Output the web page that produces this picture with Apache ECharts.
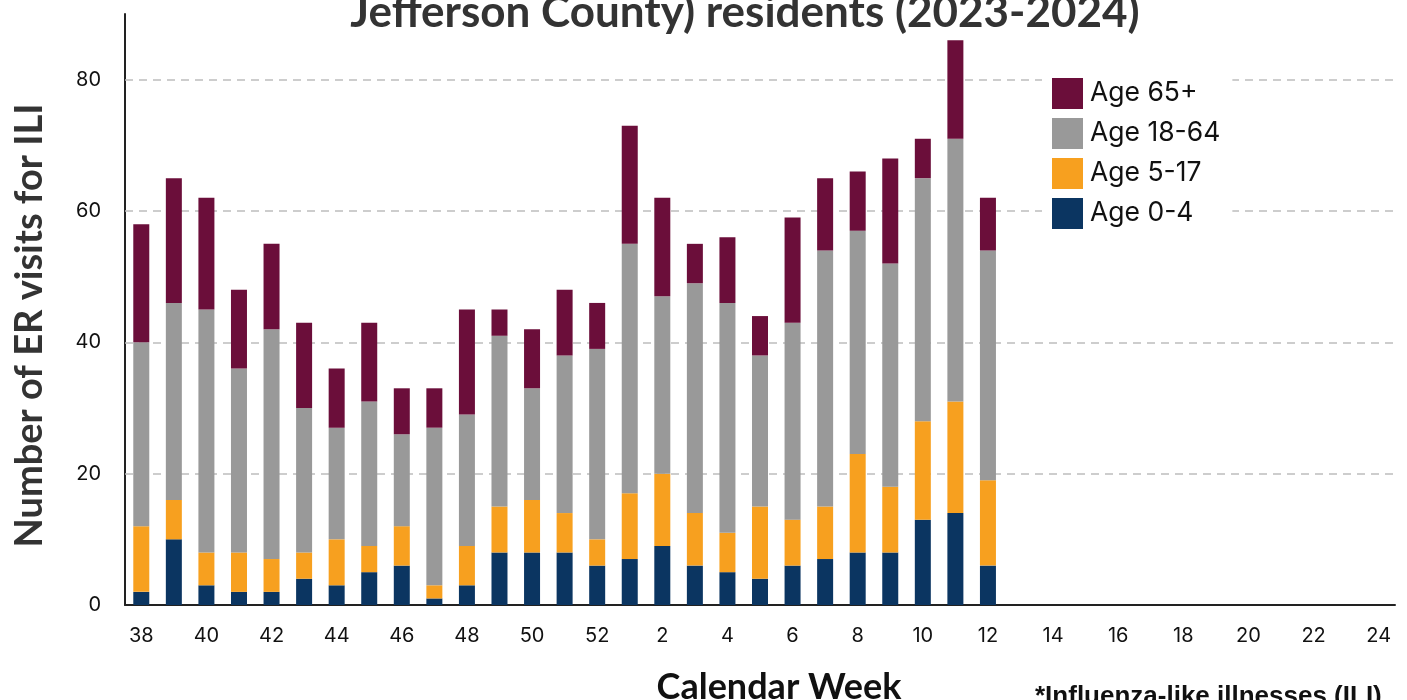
<!DOCTYPE html>
<html>
<head>
<meta charset="utf-8">
<script src="https://cdn.jsdelivr.net/npm/echarts@6/dist/echarts.min.js"></script>
<style>
  html, body { margin: 0; padding: 0; background: #fff; }
  #chart { width: 1407px; height: 700px; }
</style>
</head>
<body>
<div id="chart"></div>
<script>
// weeks 38-52 of 2023, then 1-24 of 2024
var weeks = ['38','39','40','41','42','43','44','45','46','47','48','49','50','51','52',
  '1','2','3','4','5','6','7','8','9','10','11','12','13','14','15','16','17','18','19','20','21','22','23','24'];

var age0to4   = [2,10,3,2,2,4,3,5,6,1,3,8,8,8,6, 7,9,6,5,4,6,7,8,8,13,14,6];
var age5to17  = [10,6,5,6,5,4,7,4,6,2,6,7,8,6,4, 10,11,8,6,11,7,8,15,10,15,17,13];
var age18to64 = [28,30,37,28,35,22,17,22,14,24,20,26,17,24,29, 38,27,35,35,23,30,39,34,34,37,40,35];
var age65plus = [18,19,17,12,13,13,9,12,7,6,16,4,9,10,7, 18,15,6,10,6,16,11,9,16,6,15,8];

var gridValues = [20, 40, 60, 80];

var colors = {
  a04: '#0b3561',
  a517: '#f7a01f',
  a1864: '#999999',
  a65: '#6b0e3a'
};

var myChart = echarts.init(document.getElementById('chart'));

function barSeries(name, data, color) {
  return {
    name: name,
    type: 'bar',
    stack: 'total',
    barWidth: 16,
    data: data,
    itemStyle: { color: color },
    emphasis: { disabled: true }
  };
}

var s04 = barSeries('Age 0-4', age0to4, colors.a04);
// dashed gridlines drawn as markLines so nothing appears at the top of the axis
s04.markLine = {
  silent: true,
  symbol: 'none',
  label: { show: false },
  lineStyle: { type: [8, 6], color: '#bdbdbd', width: 1.5 },
  data: gridValues.map(function (v) { return { yAxis: v }; }),
  z: 1
};

myChart.setOption({
  animation: false,
  title: {
    text: 'Jefferson County) residents (2023-2024)',
    left: 740,
    top: -14,
    textAlign: 'center',
    textStyle: { fontFamily: 'Lato', fontWeight: 'bold', fontSize: 44, color: '#333' }
  },
  legend: {
    orient: 'vertical',
    left: 1042,
    top: 70,
    padding: [8, 12, 8, 10],
    backgroundColor: '#fff',
    itemWidth: 31,
    itemHeight: 31,
    itemGap: 9,
    icon: 'rect',
    data: ['Age 65+', 'Age 18-64', 'Age 5-17', 'Age 0-4'],
    textStyle: { fontFamily: 'Inter', fontSize: 26.5, color: '#111', padding: [0, 0, 0, 2] }
  },
  grid: { left: 125, right: 12, top: 14, bottom: 95, outerBoundsMode: 'none' },
  xAxis: {
    type: 'category',
    data: weeks,
    axisLine: { lineStyle: { color: '#222', width: 2 } },
    axisTick: { show: false },
    axisLabel: { interval: 1, margin: 21, fontFamily: 'Inter', fontSize: 20, color: '#111' },
    name: 'Calendar Week',
    nameLocation: 'middle',
    nameGap: 64,
    nameTextStyle: { fontFamily: 'Lato', fontWeight: 'bold', fontSize: 36, color: '#111', padding: [0, 0, 0, 38] }
  },
  yAxis: {
    type: 'value',
    min: 0,
    max: 90,
    interval: 20,
    axisLine: { show: true, lineStyle: { color: '#222', width: 2 } },
    axisTick: { show: false },
    splitLine: { show: false },
    axisLabel: { showMaxLabel: false, margin: 24, fontFamily: 'Inter', fontSize: 20, color: '#111' },
    name: 'Number of ER visits for ILI',
    nameLocation: 'middle',
    nameGap: 76,
    nameTextStyle: { fontFamily: 'Lato', fontWeight: 'bold', fontSize: 38, color: '#333', padding: [0, 32, 0, 0] }
  },
  graphic: [{
    type: 'text',
    left: 1035,
    top: 684,
    style: {
      text: '*Influenza-like illnesses (ILI)',
      font: 'bold 26px "Liberation Sans", Arial, sans-serif',
      fill: '#111'
    }
  }],
  series: [
    s04,
    barSeries('Age 5-17', age5to17, colors.a517),
    barSeries('Age 18-64', age18to64, colors.a1864),
    barSeries('Age 65+', age65plus, colors.a65)
  ]
});
</script>
</body>
</html>
